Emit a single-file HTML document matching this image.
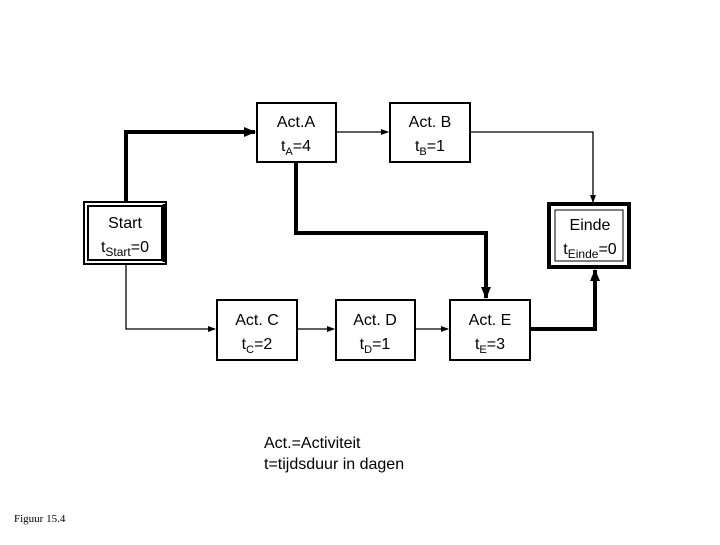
<!DOCTYPE html>
<html><head><meta charset="utf-8"><style>
html,body{margin:0;padding:0;background:#fff;}
svg text{font-family:"Liberation Sans",Arial,sans-serif;font-size:16px;fill:#000;}
</style></head><body>
<svg width="720" height="540" viewBox="0 0 720 540" xmlns="http://www.w3.org/2000/svg">
<defs>
<marker id="a" markerWidth="8" markerHeight="8" refX="7" refY="4" orient="auto" markerUnits="userSpaceOnUse"><path d="M0,1 L8,4 L0,7 z" fill="#000"/></marker>
<marker id="b" markerWidth="12" markerHeight="12" refX="11" refY="6" orient="auto" markerUnits="userSpaceOnUse"><path d="M0,1 L12,6 L0,11 z" fill="#000"/></marker>
</defs>
<g fill="none" stroke="#000">
<!-- thick connectors -->
<path d="M126,201 V132 H255" stroke-width="4" marker-end="url(#b)"/>
<path d="M296,162 V233 H486 V298" stroke-width="4" marker-end="url(#b)"/>
<path d="M530,329 H595 V270" stroke-width="4" marker-end="url(#b)"/>
<!-- thin connectors -->
<path d="M336,132 H388" stroke-width="1.3" marker-end="url(#a)"/>
<path d="M470,132 H593 V202" stroke-width="1.3" marker-end="url(#a)"/>
<path d="M126,265 V329 H215" stroke-width="1.3" marker-end="url(#a)"/>
<path d="M297,329 H334" stroke-width="1.3" marker-end="url(#a)"/>
<path d="M415,329 H448" stroke-width="1.3" marker-end="url(#a)"/>
<!-- boxes -->
<rect x="257" y="103" width="79" height="59" stroke-width="2" fill="#fff"/>
<rect x="390" y="103" width="80" height="59" stroke-width="2" fill="#fff"/>
<rect x="217" y="300" width="80" height="60" stroke-width="2" fill="#fff"/>
<rect x="336" y="300" width="79" height="60" stroke-width="2" fill="#fff"/>
<rect x="450" y="300" width="80" height="60" stroke-width="2" fill="#fff"/>
<!-- Start double -->
<rect x="84" y="202" width="82" height="62" stroke-width="2" fill="#fff"/>
<rect x="88" y="206" width="74" height="54" stroke-width="2"/>
<path d="M164,204 V262" stroke-width="3"/>
<!-- Einde heavy -->
<rect x="549" y="204" width="80" height="63" stroke-width="4" fill="#fff"/>
<rect x="555" y="210" width="68" height="51" stroke-width="1"/>
</g>
<text x="296" y="127" text-anchor="middle">Act.A</text>
<text x="296" y="151" text-anchor="middle">t<tspan font-size="11" dy="4">A</tspan><tspan dy="-4">=4</tspan></text>
<text x="430" y="127" text-anchor="middle">Act. B</text>
<text x="430" y="151" text-anchor="middle">t<tspan font-size="11" dy="4">B</tspan><tspan dy="-4">=1</tspan></text>
<text x="125" y="228" text-anchor="middle">Start</text>
<text x="125" y="252" text-anchor="middle">t<tspan font-size="12" dy="4">Start</tspan><tspan dy="-4">=0</tspan></text>
<text x="590" y="230" text-anchor="middle">Einde</text>
<text x="590" y="254" text-anchor="middle">t<tspan font-size="12" dy="4">Einde</tspan><tspan dy="-4">=0</tspan></text>
<text x="257" y="325" text-anchor="middle">Act. C</text>
<text x="257" y="349" text-anchor="middle">t<tspan font-size="11" dy="4">C</tspan><tspan dy="-4">=2</tspan></text>
<text x="375" y="325" text-anchor="middle">Act. D</text>
<text x="375" y="349" text-anchor="middle">t<tspan font-size="11" dy="4">D</tspan><tspan dy="-4">=1</tspan></text>
<text x="490" y="325" text-anchor="middle">Act. E</text>
<text x="490" y="349" text-anchor="middle">t<tspan font-size="11" dy="4">E</tspan><tspan dy="-4">=3</tspan></text>
<text x="264" y="448">Act.=Activiteit</text>
<text x="264" y="469">t=tijdsduur in dagen</text>
<text x="14" y="522" style="font-family:'Liberation Serif',serif;font-size:11px">Figuur 15.4</text>
</svg>
</body></html>
